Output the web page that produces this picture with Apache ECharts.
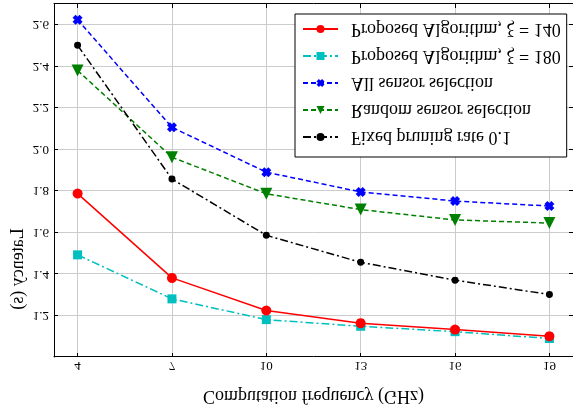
<!DOCTYPE html>
<html>
<head>
<meta charset="utf-8">
<script src="https://cdn.jsdelivr.net/npm/echarts@6/dist/echarts.min.js"></script>
<style>
  html, body { margin: 0; padding: 0; background: #fff; }
  /* the reference has every glyph mirrored top-to-bottom: flip the whole canvas
     and invert the y axis so the data still reads the right way up */
  #chart { width: 573px; height: 410px; transform: scaleY(-1); }
</style>
</head>
<body>
<div id="chart"></div>
<script>
const freq = [4, 7, 10, 13, 16, 19];
const xTicks = [4, 7, 10, 13, 16, 19];

const proposed140 = [1.787, 1.381, 1.224, 1.163, 1.132, 1.100];
const proposed180 = [1.492, 1.280, 1.180, 1.148, 1.122, 1.089];
const allSensor = [2.624, 2.106, 1.890, 1.795, 1.751, 1.727];
const randomSensor = [2.380, 1.962, 1.786, 1.710, 1.660, 1.645];
const fixedPruning = [2.501, 1.857, 1.586, 1.456, 1.370, 1.301];

const names = [
  'Proposed Algorithm, ξ = 140',
  'Proposed Algorithm, ξ = 180',
  'All sensor selection',
  'Random sensor selection',
  'Fixed pruning rate 0.1'
];

const serif = 'Liberation Serif';
// filled "X" marker like matplotlib's
const xMark = 'path://M0,3L3,0L5,2L7,0L10,3L8,5L10,7L7,10L5,8L3,10L0,7L2,5Z';

const pairs = arr => freq.map((x, i) => [x, arr[i]]);

function line(name, data, color, type, symbol, size) {
  return {
    name: name,
    type: 'line',
    data: pairs(data),
    symbol: symbol,
    symbolSize: size,
    showSymbol: true,
    lineStyle: { color: color, width: 1.5, type: type },
    itemStyle: { color: color },
    emphasis: { disabled: true },
    animation: false
  };
}

const chart = echarts.init(document.getElementById('chart'));

const gridLine = { show: true, lineStyle: { color: '#cccccc', width: 1 } };
const frame = { show: true, onZero: false, lineStyle: { color: '#000', width: 1 } };
const tick = { show: true, inside: true, length: 4, lineStyle: { color: '#000' } };

const option = {
  backgroundColor: '#fff',
  grid: { left: 54, right: -3, top: 49, bottom: 4 },
  xAxis: [
    {
      type: 'value',
      position: 'top',
      min: 3.25,
      max: 19.75,
      axisLine: frame,
      axisTick: Object.assign({}, tick, { customValues: xTicks }),
      axisLabel: { customValues: xTicks, color: '#000', fontFamily: serif, fontSize: 13, margin: 2 },
      splitLine: gridLine,
      name: 'Computation frequency (GHz)',
      nameLocation: 'middle',
      nameGap: 30,
      nameTextStyle: { color: '#000', fontFamily: serif, fontSize: 18 }
    },
    {
      type: 'value',
      position: 'bottom',
      min: 3.25,
      max: 19.75,
      axisLine: frame,
      axisTick: Object.assign({}, tick, { customValues: xTicks }),
      axisLabel: { show: false, customValues: xTicks },
      splitLine: { show: false }
    }
  ],
  yAxis: [
    {
      type: 'value',
      position: 'left',
      inverse: true,
      min: 1.0,
      max: 2.7,
      interval: 0.2,
      axisLine: frame,
      axisTick: tick,
      axisLabel: {
        color: '#000', fontFamily: serif, fontSize: 13, margin: 5,
        showMinLabel: false, showMaxLabel: false,
        formatter: v => v.toFixed(1)
      },
      splitLine: gridLine
    },
    {
      type: 'value',
      position: 'right',
      inverse: true,
      min: 1.0,
      max: 2.7,
      interval: 0.2,
      axisLine: frame,
      axisTick: tick,
      axisLabel: { show: false },
      splitLine: { show: false }
    }
  ],
  legend: {
    orient: 'vertical',
    left: 295,
    top: 253,
    padding: [11, 6, 6, 7],
    itemWidth: 35,
    itemHeight: 10,
    itemGap: 9,
    backgroundColor: '#fff',
    borderColor: '#000',
    borderWidth: 1,
    borderRadius: 0,
    textStyle: { color: '#000', fontFamily: serif, fontSize: 18, padding: [0, 0, 0, 8] },
    data: names.slice().reverse()
  },
  graphic: [
    {
      type: 'text',
      x: 18,
      y: 141,
      rotation: Math.PI / 2,
      style: {
        text: 'Latency (s)',
        fill: '#000',
        font: '18px "Liberation Serif"',
        align: 'center',
        verticalAlign: 'middle'
      }
    }
  ],
  series: [
    line(names[2], allSensor, '#0000ff', [5, 3], xMark, 10),
    line(names[3], randomSensor, '#008000', [5, 3], 'triangle', 12),
    line(names[4], fixedPruning, '#000000', [8, 3, 2, 3], 'circle', 7),
    line(names[1], proposed180, '#00bfbf', [8, 3, 2, 3], 'rect', 9),
    line(names[0], proposed140, '#ff0000', 'solid', 'circle', 10)
  ]
};

chart.setOption(option);
</script>
</body>
</html>
